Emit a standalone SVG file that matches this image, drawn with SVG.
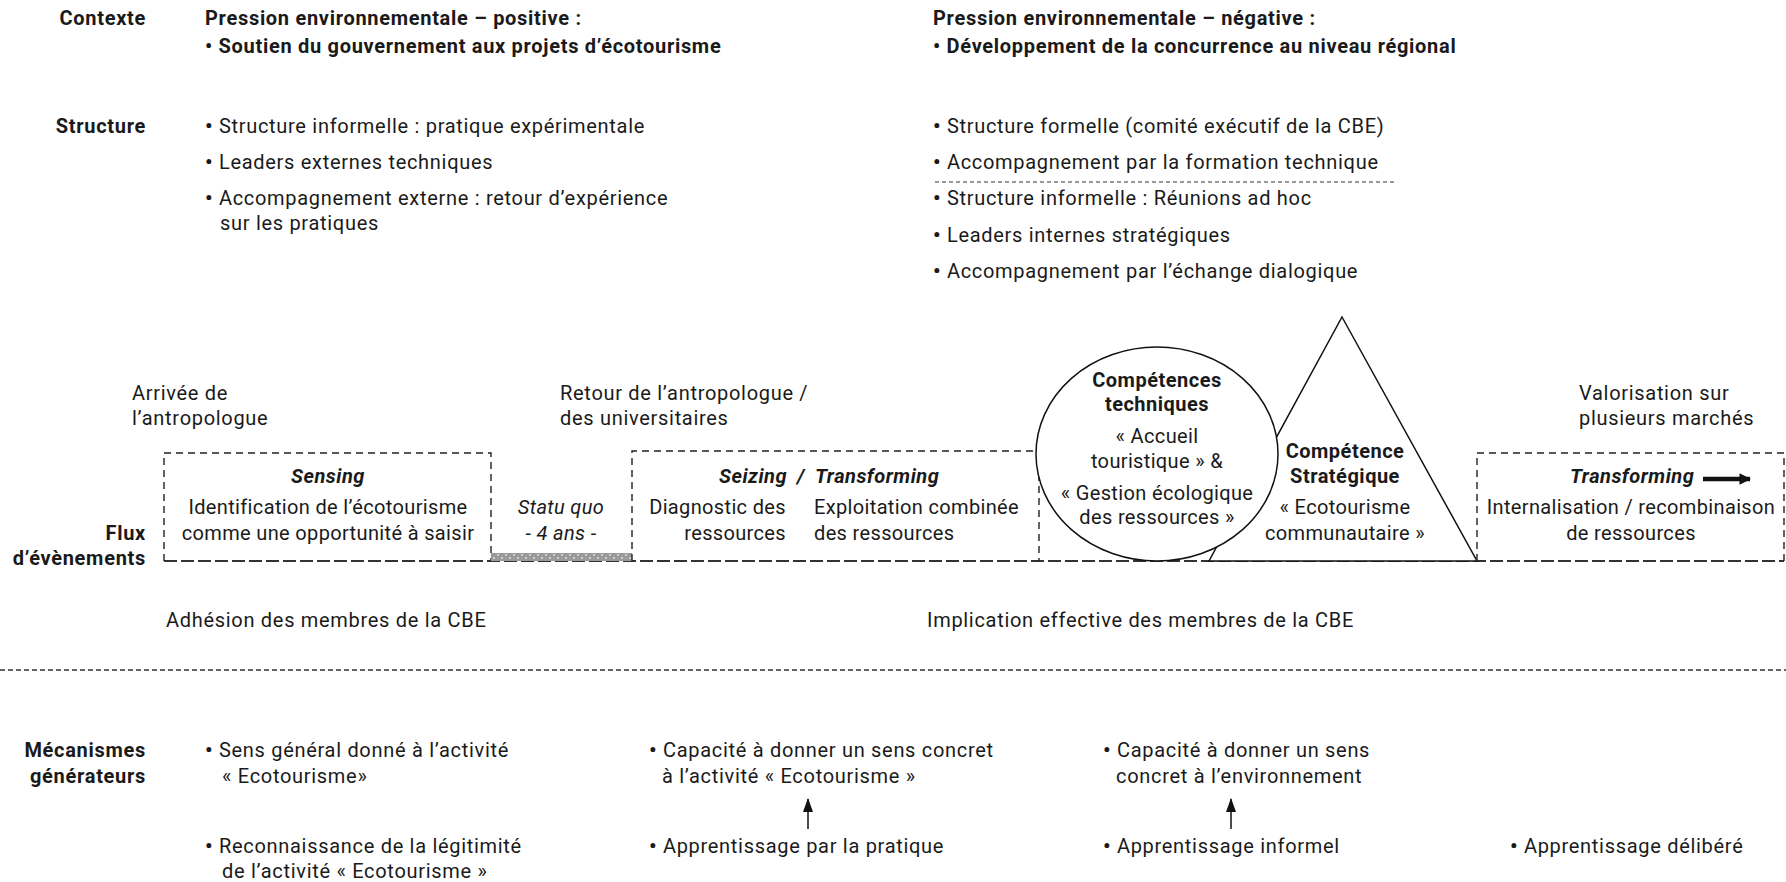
<svg xmlns="http://www.w3.org/2000/svg" width="1786" height="882" viewBox="0 0 1786 882">
<defs>
<style>
.t{font-family:Roboto,"Liberation Sans",sans-serif;font-size:20px;fill:#1a1a1a;letter-spacing:0.7px}
.k{letter-spacing:0.35px}
.b{font-weight:bold}
.i{font-style:italic}
.bi{font-weight:bold;font-style:italic}
.kb{letter-spacing:0.5px}
.m{text-anchor:middle}
.e{text-anchor:end}
.bu{font-weight:bold;font-size:21px}
.box{fill:none;stroke:#222;stroke-width:1.4;stroke-dasharray:7 5}
.tl{fill:none;stroke:#333;stroke-width:2;stroke-dasharray:13 4}
.shape{fill:#fff;stroke:#111;stroke-width:1.5}
.sep{fill:none;stroke:#333;stroke-width:1.5;stroke-dasharray:5 3}
.sep2{fill:none;stroke:#333;stroke-width:1;stroke-dasharray:4 3}
.arr{fill:none;stroke:#111;stroke-width:1.5}
</style>
<pattern id="dots" width="8" height="8" patternUnits="userSpaceOnUse">
<rect width="8" height="8" fill="#9a9a9a"/>
<circle cx="2" cy="3" r="0.9" fill="#e6e6e6"/>
<circle cx="6" cy="6" r="0.9" fill="#e6e6e6"/>
</pattern>
<marker id="ah" viewBox="0 0 14 10" refX="13" refY="5" markerWidth="14" markerHeight="10" orient="auto" markerUnits="userSpaceOnUse">
<path d="M0,0 L14,5 L0,10 z" fill="#111"/>
</marker>
<marker id="ah2" viewBox="0 0 10 10" refX="9" refY="5" markerWidth="2.6" markerHeight="2.8" orient="auto">
<path d="M0,0 L10,5 L0,10 z" fill="#111"/>
</marker>
</defs>
<rect width="1786" height="882" fill="#fff"/>

<g id="contexte">
<text class="t b e" x="146" y="25">Contexte</text>
<text class="t b" x="205" y="25">Pression environnementale – positive :</text>
<text class="t b" x="205" y="53">• Soutien du gouvernement aux projets d’écotourisme</text>
<text class="t b" x="933" y="25">Pression environnementale – négative :</text>
<text class="t b" x="933" y="53">• Développement de la concurrence au niveau régional</text>
</g>

<g id="structure">
<text class="t b e" x="146" y="133">Structure</text>
<text class="t" x="205" y="133"><tspan class="bu">•</tspan> Structure informelle : pratique expérimentale</text>
<text class="t" x="205" y="169"><tspan class="bu">•</tspan> Leaders externes techniques</text>
<text class="t" x="205" y="205"><tspan class="bu">•</tspan> Accompagnement externe : retour d’expérience</text>
<text class="t" x="220" y="230">sur les pratiques</text>
<text class="t" x="933" y="133"><tspan class="bu">•</tspan> Structure formelle (comité exécutif de la CBE)</text>
<text class="t" x="933" y="169"><tspan class="bu">•</tspan> Accompagnement par la formation technique</text>
<line class="sep2" x1="935" y1="182" x2="1395" y2="182"/>
<text class="t" x="933" y="205"><tspan class="bu">•</tspan> Structure informelle : Réunions ad hoc</text>
<text class="t" x="933" y="242"><tspan class="bu">•</tspan> Leaders internes stratégiques</text>
<text class="t" x="933" y="278"><tspan class="bu">•</tspan> Accompagnement par l’échange dialogique</text>
</g>

<g id="evenements">
<text class="t" x="132" y="400">Arrivée de</text>
<text class="t" x="132" y="425">l’antropologue</text>
<text class="t" x="560" y="400">Retour de l’antropologue /</text>
<text class="t" x="560" y="425">des universitaires</text>
<text class="t" x="1579" y="400">Valorisation sur</text>
<text class="t" x="1579" y="425">plusieurs marchés</text>
<text class="t b e" x="146" y="540">Flux</text>
<text class="t b e" x="146" y="565">d’évènements</text>
<text class="t" x="166" y="627">Adhésion des membres de la CBE</text>
<text class="t" x="927" y="627">Implication effective des membres de la CBE</text>
</g>

<g id="timeline">
<line class="tl" x1="164" y1="561" x2="1784" y2="561"/>
</g>

<g id="sensing">
<path class="box" d="M164,561 V453 H491 V561"/>
<text class="t bi kb m" x="328" y="483">Sensing</text>
<text class="t k m" x="328" y="514">Identification de l’écotourisme</text>
<text class="t k m" x="328" y="540">comme une opportunité à saisir</text>
</g>

<g id="statu-quo">
<rect x="491" y="553" width="141" height="8" fill="url(#dots)"/>
<text class="t i k m" x="561" y="514">Statu quo</text>
<text class="t i k m" x="561" y="540">- 4 ans -</text>
</g>

<g id="seizing">
<path class="box" d="M632,561 V451 H1039 V561"/>
<text class="t bi kb" x="719" y="483">Seizing</text>
<text class="t bi kb" x="797" y="483">/</text>
<text class="t bi kb" x="815" y="483">Transforming</text>
<text class="t k e" x="786" y="514">Diagnostic des</text>
<text class="t k e" x="786" y="540">ressources</text>
<text class="t k" x="814" y="514">Exploitation combinée</text>
<text class="t k" x="814" y="540">des ressources</text>
</g>

<g id="competence-strategique">
<path class="shape" d="M1342,317 L1477,561 L1209,561 Z"/>
<text class="t b kb m" x="1345" y="458">Compétence</text>
<text class="t b kb m" x="1345" y="483">Stratégique</text>
<text class="t k m" x="1345" y="514">« Ecotourisme</text>
<text class="t k m" x="1345" y="540">communautaire »</text>
</g>

<g id="competences-techniques">
<ellipse class="shape" cx="1157" cy="454" rx="121" ry="107"/>
<text class="t b kb m" x="1157" y="387">Compétences</text>
<text class="t b kb m" x="1157" y="411">techniques</text>
<text class="t k m" x="1157" y="443">« Accueil</text>
<text class="t k m" x="1157" y="468">touristique » &amp;</text>
<text class="t k m" x="1157" y="500">« Gestion écologique</text>
<text class="t k m" x="1157" y="524">des ressources »</text>
</g>

<g id="transforming">
<path class="box" d="M1477,561 V453 H1784 V561"/>
<text class="t bi kb" x="1570" y="483">Transforming</text>
<text class="t k m" x="1631" y="514">Internalisation / recombinaison</text>
<text class="t k m" x="1631" y="540">de ressources</text>
</g>

<line class="sep" x1="0" y1="670" x2="1786" y2="670"/>

<g id="mecanismes">
<text class="t b e" x="146" y="757">Mécanismes</text>
<text class="t b e" x="146" y="783">générateurs</text>
<text class="t" x="205" y="757"><tspan class="bu">•</tspan> Sens général donné à l’activité</text>
<text class="t" x="222" y="783">« Ecotourisme»</text>
<text class="t" x="205" y="853"><tspan class="bu">•</tspan> Reconnaissance de la légitimité</text>
<text class="t" x="222" y="878">de l’activité « Ecotourisme »</text>
<text class="t" x="649" y="757"><tspan class="bu">•</tspan> Capacité à donner un sens concret</text>
<text class="t" x="662" y="783">à l’activité « Ecotourisme »</text>
<text class="t" x="649" y="853"><tspan class="bu">•</tspan> Apprentissage par la pratique</text>
<text class="t" x="1103" y="757"><tspan class="bu">•</tspan> Capacité à donner un sens</text>
<text class="t" x="1116" y="783">concret à l’environnement</text>
<text class="t" x="1103" y="853"><tspan class="bu">•</tspan> Apprentissage informel</text>
<text class="t" x="1510" y="853"><tspan class="bu">•</tspan> Apprentissage délibéré</text>
</g>

<g id="connectors">
<line x1="1703" y1="479" x2="1750" y2="479" stroke="#111" stroke-width="4.5" marker-end="url(#ah2)"/>
<line class="arr" x1="808" y1="829" x2="808" y2="799" marker-end="url(#ah)"/>
<line class="arr" x1="1231" y1="829" x2="1231" y2="799" marker-end="url(#ah)"/>
</g>
</svg>
